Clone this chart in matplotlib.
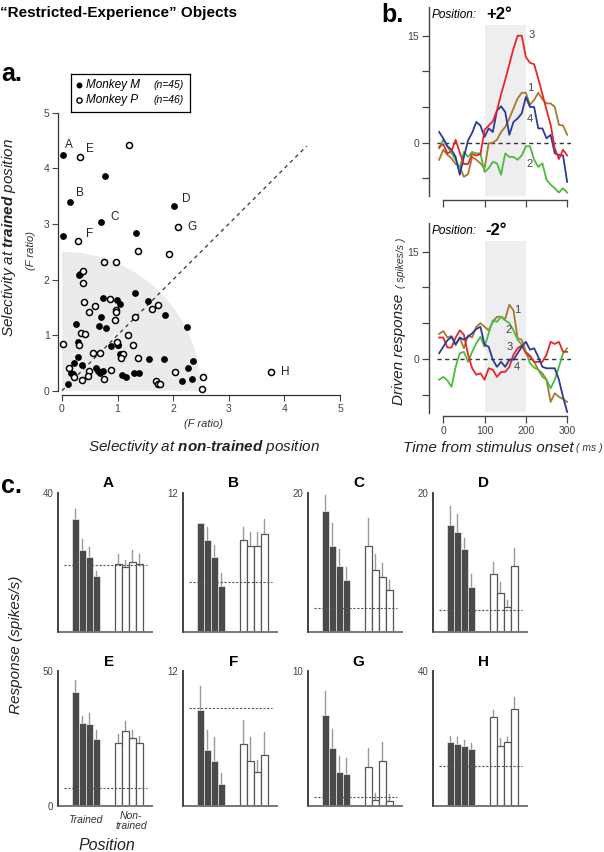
import numpy as np
import matplotlib
matplotlib.use('Agg')
import matplotlib.pyplot as plt
from matplotlib.patches import Wedge
import matplotlib.transforms as mtransforms

plt.rcParams['font.family'] = ['Liberation Sans', 'DejaVu Sans']
plt.rcParams['mathtext.fontset'] = 'custom'
plt.rcParams['mathtext.bf'] = 'Liberation Sans:bold:italic'
plt.rcParams['mathtext.it'] = 'Liberation Sans:italic'
plt.rcParams['mathtext.rm'] = 'Liberation Sans:italic'

# ---- panel a : selectivity scatter ----
monkey_m_x = [0.02, 0.78, 0.14, 2.02, 0.71, 1.33, 0.02, 0.31, 0.73, 1.31, 0.99, 1.04,
              1.55, 1.85, 0.71, 0.25, 0.67, 0.79, 2.24, 0.28, 0.89, 1.01, 1.04, 0.29,
              1.56, 1.84, 0.21, 0.36, 2.36, 2.27, 0.62, 0.16, 0.68, 0.74, 1.30, 1.39,
              1.08, 1.15, 2.16, 2.34, 0.11, 0.19, 0.64, 0.33, 1.00]
monkey_m_y = [4.23, 3.87, 3.39, 3.32, 3.04, 2.84, 2.78, 2.09, 1.67, 1.75, 1.64, 1.56,
              1.62, 1.36, 1.32, 1.20, 1.16, 1.13, 1.15, 0.88, 0.81, 0.83, 0.66, 0.61,
              0.57, 0.57, 0.50, 0.47, 0.53, 0.40, 0.41, 0.32, 0.32, 0.36, 0.32, 0.32,
              0.29, 0.25, 0.17, 0.22, 0.13, 0.30, 0.36, 2.10, 0.83]
monkey_p_x = [0.33, 1.20, 2.08, 0.28, 1.37, 1.93, 0.76, 0.97, 0.37, 0.37, 0.39, 0.86,
              0.60, 0.49, 0.97, 0.98, 1.62, 1.73, 1.32, 0.96, 0.34, 0.41, 1.18, 0.02,
              0.31, 0.99, 1.27, 0.55, 0.69, 1.10, 1.07, 1.37, 0.13, 0.21, 0.49, 0.46,
              0.36, 0.89, 0.76, 1.69, 1.73, 1.77, 2.04, 2.53, 2.51, 3.75]
monkey_p_y = [4.20, 4.41, 2.94, 2.69, 2.51, 2.46, 2.32, 2.32, 2.15, 1.93, 1.60, 1.65,
              1.53, 1.42, 1.45, 1.42, 1.47, 1.54, 1.33, 1.28, 1.04, 1.02, 1.00, 0.84,
              0.83, 0.87, 0.82, 0.68, 0.68, 0.66, 0.59, 0.59, 0.40, 0.25, 0.35, 0.27,
              0.19, 0.37, 0.22, 0.18, 0.13, 0.13, 0.33, 0.24, 0.04, 0.33]
point_letters = ['A', 'E', 'B', 'D', 'C', 'G', 'F', 'H']
point_xy = [(0.02, 4.23), (0.33, 4.20), (0.14, 3.39), (2.02, 3.32),
            (0.71, 3.04), (2.08, 2.94), (0.28, 2.69), (3.75, 0.33)]

# ---- panel b : driven response time courses ----
t_ms = np.arange(-10, 310, 10)
top_red = [-0.6, -0.2, -1.5, -1.2, 0.4, -1.4, -3.0, -3.0, -1.6, -1.8, -1.6, 1.8, 2.4, 3.0, 4.5, 6.8,
           8.8, 11.0, 13.2, 15.0, 15.0, 12.0, 11.2, 11.0, 9.0, 6.8, 4.6, 2.5, -0.8, -2.3, -1.0, -1.8]
top_blue = [1.5, 0.6, -0.5, -1.0, -2.0, -4.5, -2.0, 0.3, 1.4, 2.9, 2.4, 0.8, 2.0, 1.5, 4.5, 5.1,
            4.3, 1.1, 2.9, 3.4, 4.1, 6.4, 5.0, 5.0, 2.0, 2.0, 0.6, 1.1, -1.5, -1.7, -1.8, -5.5]
top_brown = [-2.4, -1.0, -1.7, -2.2, -3.0, -3.4, -4.8, -4.4, -2.0, -2.4, -2.9, -3.6, -0.1, 0.0, 0.4, 1.5,
             2.2, 3.4, 4.8, 6.2, 7.0, 7.0, 5.3, 6.0, 7.0, 6.1, 5.5, 5.5, 5.0, 2.5, 2.4, 1.1]
top_green = [-0.8, 0.4, -0.5, -1.5, -2.4, -3.6, -1.3, -2.0, -1.3, -1.5, -1.5, -4.1, -3.6, -2.7, -2.9, -4.5,
             -1.5, -2.0, -2.0, -2.4, -1.8, -0.5, -0.5, -2.4, -3.4, -2.9, -5.2, -5.9, -6.4, -7.0, -6.4, -7.0]
bot_brown = [3.5, 3.9, 3.0, 3.2, 2.0, 3.0, 1.5, 3.3, 3.0, 4.5, 5.0, 4.5, 4.0, 5.2, 5.9, 5.9,
             5.6, 7.6, 6.8, 2.9, 2.7, 1.0, 0.5, -0.4, -1.5, -2.0, -2.9, -6.0, -4.8, -5.3, -5.6, -6.0]
bot_red = [3.0, 3.0, 1.6, 1.6, 3.0, 4.0, 3.4, 0.6, -1.3, -2.2, -2.0, -2.9, -1.3, -1.5, -2.5, -1.8,
           -1.8, -1.1, 0.6, 1.5, 1.9, 0.8, 0.3, -0.4, -0.4, -0.4, 0.6, 2.4, 2.1, 2.4, 1.0, 1.0]
bot_green = [-2.9, -2.5, -3.0, -3.9, -1.1, 0.8, 1.0, -0.4, 1.0, 2.2, 3.1, 1.7, 3.6, 5.4, 5.2, 5.9,
             5.4, 5.0, 4.0, 2.7, 2.0, 1.0, -0.6, -1.2, -1.5, -2.5, -2.9, -4.1, -2.9, -1.1, 0.8, 1.5]
bot_blue = [0.8, 1.7, 2.6, 3.1, 2.0, 3.0, 2.7, 3.1, 3.6, 4.2, 4.5, 2.0, 1.7, -0.1, -1.1, -0.4,
            -1.1, -0.1, -0.1, 0.8, 1.7, 2.4, 1.3, 1.5, 0.3, -1.1, -1.3, -1.3, -1.3, -2.9, -5.3, -7.4]

# ---- panel c : example neurons ----
neuron_names = ['A', 'B', 'C', 'D', 'E', 'F', 'G', 'H']
neuron_ymax = [40, 12, 20, 20, 50, 12, 10, 40]
trained_mean = [[32.5, 23.5, 21.5, 16.0], [9.45, 7.95, 6.48, 4.0], [17.4, 12.4, 9.5, 7.5],
                [15.4, 14.4, 11.9, 6.5], [42.2, 30.6, 30.2, 24.6], [8.5, 5.0, 4.0, 1.95],
                [6.7, 4.3, 2.5, 2.4], [18.9, 18.3, 17.7, 16.8]]
trained_err = [[3.1, 3.2, 3.0, 1.4], [0.0, 1.1, 1.05, 1.05], [2.3, 3.3, 2.4, 1.9],
               [2.7, 2.6, 1.6, 1.8], [4.4, 2.7, 4.1, 3.5], [2.1, 1.7, 2.1, 0.95],
               [1.8, 1.4, 1.2, 1.15], [1.8, 2.0, 1.8, 1.7]]
untrained_mean = [[19.6, 18.6, 20.1, 19.6], [7.95, 7.43, 7.43, 8.45], [12.4, 8.9, 7.95, 6.0],
                  [8.4, 5.6, 3.5, 9.5], [23.2, 27.7, 25.0, 23.2], [5.5, 4.0, 3.0, 4.5],
                  [2.86, 0.44, 3.33, 0.39], [26.2, 17.7, 19.0, 28.6]]
untrained_err = [[2.9, 2.0, 3.4, 2.9], [1.15, 1.25, 1.2, 1.3], [4.0, 2.4, 2.0, 1.5],
                 [1.7, 1.6, 1.1, 2.6], [3.4, 3.8, 3.1, 2.7], [2.1, 2.1, 1.1, 2.1],
                 [1.4, 0.5, 1.4, 0.5], [2.2, 2.5, 1.5, 3.5]]
baseline = [19.2, 4.28, 3.38, 3.14, 6.8, 8.66, 0.64, 11.9]

W, H = 604, 852
fig = plt.figure(figsize=(W / 100, H / 100), dpi=100)


def box(l, t, r, b):
    return [l / W, 1 - b / H, (r - l) / W, (b - t) / H]


TICKC = '#444444'

# title / panel letters
fig.text(0 / W, 1 - 13 / H, '\u201cRestricted-Experience\u201d Objects', fontsize=11,
         fontweight='bold', va='center', ha='left')
fig.text(1 / W, 1 - 74 / H, 'a.', fontsize=18, fontweight='bold', va='center')
fig.text(381 / W, 1 - 15 / H, 'b.', fontsize=18, fontweight='bold', va='center')
fig.text(1 / W, 1 - 486 / H, 'c.', fontsize=18, fontweight='bold', va='center')

# ---------------- panel a ----------------
ax = fig.add_axes(box(56.4, 107.1, 345.6, 396.3))
ax.set_xlim(-0.1, 5.1)
ax.set_ylim(-0.1, 5.1)
ax.add_patch(Wedge((0, 0), 2.5, 0, 90, color='#ebebeb', zorder=0, lw=0))
ax.plot([0, 4.4], [0, 4.4], ls=(0, (3, 3)), color='#333333', lw=0.9, zorder=1)
ax.scatter(monkey_m_x, monkey_m_y, s=24, color='black', zorder=3, lw=0)
ax.scatter(monkey_p_x, monkey_p_y, s=19, facecolor='white', edgecolor='black', lw=1.1, zorder=3)
letter_off = {'A': (2, 10), 'E': (6, 8), 'B': (6, 9), 'D': (8, 7), 'C': (9, 5),
              'G': (10, 0), 'F': (8, 7), 'H': (10, 0)}
for name, (px_, py_) in zip(point_letters, point_xy):
    ax.annotate(name, (px_, py_), xytext=letter_off[name], textcoords='offset pixels',
                ha='left', va='center', fontsize=8.5, color='#222222')
for s in ['top', 'right']:
    ax.spines[s].set_visible(False)
ax.spines['left'].set_position(('data', -0.07))
ax.spines['bottom'].set_position(('data', -0.08))
ax.spines['left'].set_bounds(0, 5)
ax.spines['bottom'].set_bounds(0, 5)
for s in ['left', 'bottom']:
    ax.spines[s].set_color('#333333')
    ax.spines[s].set_linewidth(0.9)
ax.set_xticks(range(6))
ax.set_yticks(range(6))
ax.tick_params(length=4, width=0.8, labelsize=7.5, colors=TICKC, pad=2)

fig.text(9 / W, 1 - 238 / H, 'Selectivity at $\\mathbf{trained}$ position', rotation=90,
         fontsize=11, fontstyle='italic', ha='center', va='center', color='#222222')
fig.text(31 / W, 1 - 250 / H, '(F ratio)', rotation=90, fontsize=8, fontstyle='italic',
         ha='center', va='center', color='#333333')
fig.text(203 / W, 1 - 424 / H, '(F ratio)', fontsize=8, fontstyle='italic',
         ha='center', va='center', color='#333333')
fig.text(204 / W, 1 - 447 / H, 'Selectivity at $\\mathbf{non}$-$\\mathbf{trained}$ position',
         fontsize=11, fontstyle='italic', ha='center', va='center', color='#222222')

# legend box
lg = fig.add_axes(box(70.7, 74, 190, 111.7))
lg.set_xlim(0, 1)
lg.set_ylim(0, 1)
lg.set_xticks([])
lg.set_yticks([])
for s in lg.spines.values():
    s.set_linewidth(0.9)
lg.scatter([0.07], [0.71], s=18, color='black', lw=0)
lg.scatter([0.07], [0.30], s=14, facecolor='white', edgecolor='black', lw=1.0)
lg.text(0.13, 0.71, 'Monkey M', fontsize=8.5, fontstyle='italic', va='center')
lg.text(0.13, 0.30, 'Monkey P', fontsize=8.5, fontstyle='italic', va='center')
lg.text(0.69, 0.71, '(n=45)', fontsize=7.5, fontstyle='italic', va='center')
lg.text(0.69, 0.30, '(n=46)', fontsize=7.5, fontstyle='italic', va='center')

# ---------------- panel b ----------------
RED, BLUE, BROWN, GREEN = '#e8262a', '#2b3a9a', '#a8792b', '#4cbb3f'


def time_panel(rect, series, labels, pos_text, show_xlabels):
    bx = fig.add_axes(rect)
    bx.set_xlim(-35, 310)
    bx.set_ylim(-8, 19)
    bx.axvspan(100, 200, ymin=0.02, ymax=0.905, color='#eeeef0', lw=0, zorder=0)
    bx.plot([-15, 310], [0, 0], ls=(0, (3, 2.5)), color='#333333', lw=1.0, zorder=1)
    for ys, c in series:
        bx.plot(t_ms, ys, color=c, lw=1.3, zorder=2)
    for txt, x, y in labels:
        bx.text(x, y, txt, fontsize=8, color='#444444', ha='center', va='center')
    for s in ['top', 'right']:
        bx.spines[s].set_visible(False)
    bx.spines['bottom'].set_bounds(0, 300)
    bx.spines['left'].set_bounds(-7.5, 19)
    for s in ['left', 'bottom']:
        bx.spines[s].set_color('#444444')
        bx.spines[s].set_linewidth(1.0)
    bx.set_xticks([0, 100, 200, 300])
    bx.set_yticks([0, 15])
    bx.set_yticks([-5, 5, 10], minor=True)
    bx.tick_params(which='both', length=5, width=0.9, labelsize=7.5, colors=TICKC, pad=2)
    if not show_xlabels:
        bx.set_xticklabels([])
    bx.text(0.02, 0.96, 'Position:', transform=bx.transAxes, fontsize=8.5, fontstyle='italic',
            va='center', ha='left')
    bx.text(0.40, 0.96, pos_text, transform=bx.transAxes, fontsize=12, fontweight='bold',
            va='center', ha='left')
    return bx


time_panel(box(428.8, 7.2, 571.3, 199.7),
           [(top_brown, BROWN), (top_green, GREEN), (top_blue, BLUE), (top_red, RED)],
           [('3', 214, 15.1), ('1', 210, 7.6), ('4', 210, 3.3), ('2', 210, -3.0)],
           '+2\u00b0', False)
time_panel(box(428.8, 223.1, 571.3, 416.2),
           [(bot_brown, BROWN), (bot_green, GREEN), (bot_red, RED), (bot_blue, BLUE)],
           [('1', 179, 6.9), ('2', 157, 4.0), ('3', 160, 1.7), ('4', 179, -1.1)],
           '-2\u00b0', True)

fig.text(399 / W, 1 - 349 / H, 'Driven response', rotation=90, fontsize=11,
         fontstyle='italic', ha='center', va='center', color='#222222')
fig.text(401 / W, 1 - 263 / H, '( spikes/s )', rotation=90, fontsize=7.5,
         fontstyle='italic', ha='center', va='center', color='#333333')
fig.text(488 / W, 1 - 448 / H, 'Time from stimulus onset', fontsize=11,
         fontstyle='italic', ha='center', va='center', color='#222222')
fig.text(589 / W, 1 - 448 / H, '( ms )', fontsize=7.5,
         fontstyle='italic', ha='center', va='center', color='#333333')

# ---------------- panel c ----------------
trained_x = np.array([0, 1, 2, 3])
untrained_x = np.array([6.2, 7.2, 8.2, 9.2])
col_zero = [75, 200, 325, 450]
rows = [(493.3, 631.7), (670.7, 806.0)]

for i, name in enumerate(neuron_names):
    r, c = divmod(i, 4)
    top, bot = rows[r]
    x0 = col_zero[c]
    cx = fig.add_axes(box(x0 - 2.6 * 7, top, x0 + 11.3 * 7, bot))
    cx.set_xlim(-2.6, 11.3)
    ymax = neuron_ymax[i]
    cx.set_ylim(0, ymax)
    cx.bar(trained_x, trained_mean[i], width=1.0, color='#4a4a4a', edgecolor='white',
           lw=0.4, zorder=2)
    cx.bar(untrained_x, untrained_mean[i], width=0.92, color='white', edgecolor='#555555',
           lw=0.9, zorder=2)
    for xs, m, e in [(trained_x, trained_mean[i], trained_err[i]),
                     (untrained_x, untrained_mean[i], untrained_err[i])]:
        for xx, mm, ee in zip(xs, m, e):
            if ee > 0:
                cx.plot([xx, xx], [mm, mm + ee], color='#9a9a9a', lw=1.0, zorder=1)
    cx.plot([-1.6, 10.3], [baseline[i], baseline[i]], ls=(0, (2, 1.5)), color='#555555',
            lw=0.8, zorder=3)
    for s in ['top', 'right']:
        cx.spines[s].set_visible(False)
    cx.spines['left'].set_position(('data', -2.5))
    cx.spines['left'].set_bounds(0, ymax)
    cx.spines['left'].set_color('#333333')
    cx.spines['left'].set_linewidth(1.3)
    cx.spines['bottom'].set_bounds(-2.2, 11)
    cx.spines['bottom'].set_color('#777777')
    cx.spines['bottom'].set_linewidth(1.4)
    cx.set_xticks([])
    if name == 'E':
        cx.set_yticks([0, ymax])
    else:
        cx.set_yticks([ymax])
    cx.tick_params(axis='y', length=0, labelsize=7, colors=TICKC, pad=3)
    ty = 1.072 if r == 0 else 1.067
    trans = mtransforms.blended_transform_factory(cx.transData, cx.transAxes)
    cx.text(4.8, ty, name, transform=trans, fontsize=11, fontweight='bold',
            ha='center', va='center')
    if name == 'E':
        cx.text(1.5, -0.1, 'Trained', transform=trans, fontsize=7.5, fontstyle='italic',
                ha='center', va='center', color='#333333')
        cx.text(8.0, -0.11, 'Non-\ntrained', transform=trans, fontsize=7.5,
                fontstyle='italic', ha='center', va='center', color='#333333',
                linespacing=0.95)

fig.text(16 / W, 1 - 645 / H, 'Response (spikes/s)', rotation=90, fontsize=11,
         fontstyle='italic', ha='center', va='center', color='#222222')
fig.text(107 / W, 1 - 845 / H, 'Position', fontsize=11.5, fontstyle='italic',
         ha='center', va='center', color='#222222')

fig.savefig('out.png', dpi=100)
